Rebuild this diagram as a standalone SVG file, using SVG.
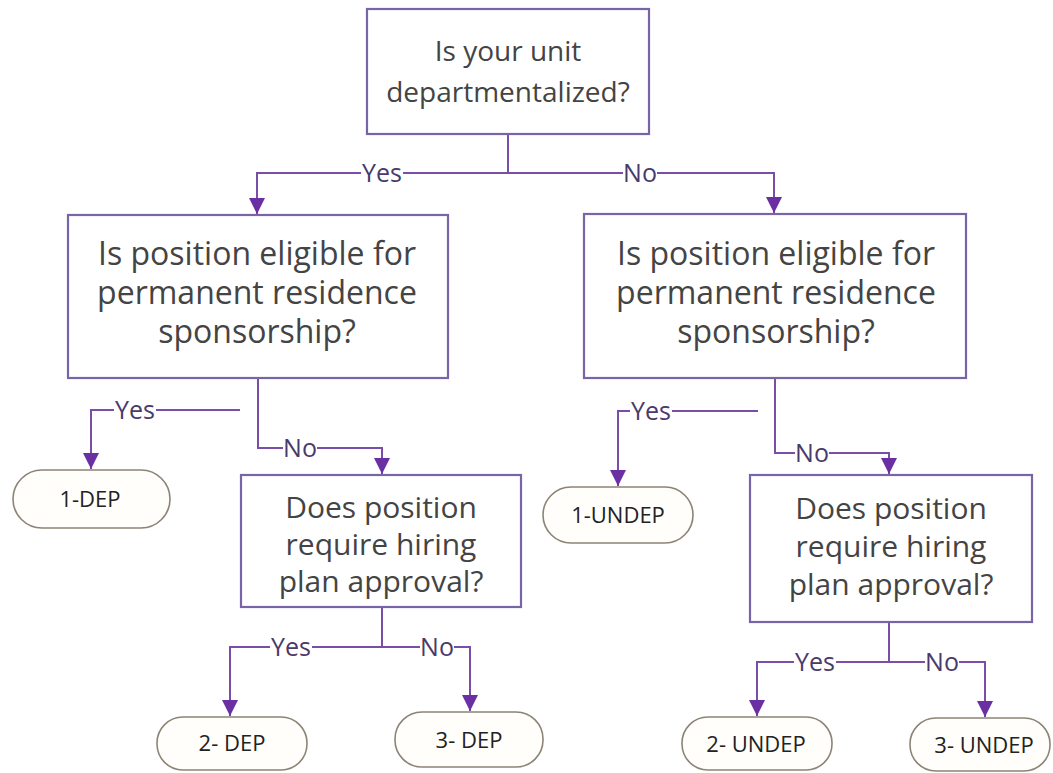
<svg xmlns="http://www.w3.org/2000/svg" width="1053" height="773" viewBox="0 0 1053 773">
<defs>
<style>
.box{fill:#fff;stroke:#7a64a8;stroke-width:2.2}
.pill{fill:#fffefa;stroke:#8c8476;stroke-width:1.6}
.q{font-family:"Open Sans","Noto Sans",sans-serif;fill:#444;text-anchor:middle}
.t{font-family:"Open Sans","Noto Sans",sans-serif;fill:#222;text-anchor:middle;font-size:22px}
.c{fill:none;stroke:#7a4ea8;stroke-width:2}
.lbl{font-family:"Open Sans","Noto Sans",sans-serif;fill:#4a3a6a;font-size:25px;text-anchor:middle}
.bg{fill:#fff}
</style>
<marker id="ah" markerUnits="userSpaceOnUse" markerWidth="16" markerHeight="16" refX="14" refY="7" orient="auto" viewBox="0 0 14 14">
<path d="M0,0 L14,7 L0,14 Z" fill="#6a2fa3"/>
</marker>
</defs>
<rect width="1053" height="773" fill="#fff"/>

<g id="connectors">
<path class="c" d="M508,134 V173 H257 V214" marker-end="url(#ah)"/>
<path class="c" d="M508,173 H774 V213" marker-end="url(#ah)"/>
<path class="c" d="M258,378 V448 H382 V474" marker-end="url(#ah)"/>
<path class="c" d="M240,410 H91 V469" marker-end="url(#ah)"/>
<path class="c" d="M775,378 V453 H889 V474" marker-end="url(#ah)"/>
<path class="c" d="M758,411 H618 V486" marker-end="url(#ah)"/>
<path class="c" d="M382,607 V647 H230 V716" marker-end="url(#ah)"/>
<path class="c" d="M382,647 H470 V711" marker-end="url(#ah)"/>
<path class="c" d="M889,622 V662 H757 V716" marker-end="url(#ah)"/>
<path class="c" d="M889,662 H985 V717" marker-end="url(#ah)"/>
<g id="labels">
<rect class="bg" x="361" y="160" width="42" height="26"/><text class="lbl" x="382" y="182">Yes</text>
<rect class="bg" x="623" y="160" width="34" height="26"/><text class="lbl" x="640" y="182">No</text>
<rect class="bg" x="114" y="397" width="42" height="26"/><text class="lbl" x="135" y="419">Yes</text>
<rect class="bg" x="283" y="435" width="34" height="26"/><text class="lbl" x="300" y="457">No</text>
<rect class="bg" x="630" y="398" width="42" height="26"/><text class="lbl" x="651" y="420">Yes</text>
<rect class="bg" x="795" y="440" width="34" height="26"/><text class="lbl" x="812" y="462">No</text>
<rect class="bg" x="270" y="634" width="42" height="26"/><text class="lbl" x="291" y="656">Yes</text>
<rect class="bg" x="420" y="634" width="34" height="26"/><text class="lbl" x="437" y="656">No</text>
<rect class="bg" x="794" y="649" width="42" height="26"/><text class="lbl" x="815" y="671">Yes</text>
<rect class="bg" x="925" y="649" width="34" height="26"/><text class="lbl" x="942" y="671">No</text>
</g>
</g>

<g id="q-departmentalized">
<rect class="box" x="367" y="9" width="282" height="125"/>
<text class="q" font-size="28" x="508" y="61">Is your unit</text>
<text class="q" font-size="28" x="508" y="102">departmentalized?</text>
</g>

<g id="q-eligible-dep">
<rect class="box" x="68" y="215" width="380" height="163"/>
<text class="q" font-size="32" x="257" y="265">Is position eligible for</text>
<text class="q" font-size="32" x="257" y="304">permanent residence</text>
<text class="q" font-size="32" x="257" y="343">sponsorship?</text>
</g>

<g id="q-eligible-undep">
<rect class="box" x="584" y="214" width="382" height="164"/>
<text class="q" font-size="32" x="776" y="265">Is position eligible for</text>
<text class="q" font-size="32" x="776" y="304">permanent residence</text>
<text class="q" font-size="32" x="776" y="343">sponsorship?</text>
</g>

<g id="q-hiring-dep">
<rect class="box" x="241" y="475" width="280" height="132"/>
<text class="q" font-size="30" x="381" y="518">Does position</text>
<text class="q" font-size="30" x="381" y="555">require hiring</text>
<text class="q" font-size="30" x="381" y="592">plan approval?</text>
</g>

<g id="q-hiring-undep">
<rect class="box" x="750" y="475" width="282" height="147"/>
<text class="q" font-size="30" x="891" y="519">Does position</text>
<text class="q" font-size="30" x="891" y="557">require hiring</text>
<text class="q" font-size="30" x="891" y="595">plan approval?</text>
</g>

<g id="r-1-dep">
<rect class="pill" x="13" y="470" width="157" height="58" rx="29"/>
<text class="t" font-size="21" x="90" y="507">1-DEP</text>
</g>
<g id="r-1-undep">
<rect class="pill" x="543" y="487" width="150" height="56" rx="28"/>
<text class="t" x="618" y="523">1-UNDEP</text>
</g>
<g id="r-2-dep">
<rect class="pill" x="157" y="717" width="150" height="53" rx="26"/>
<text class="t" x="232" y="751">2- DEP</text>
</g>
<g id="r-3-dep">
<rect class="pill" x="395" y="712" width="148" height="55" rx="27"/>
<text class="t" x="469" y="748">3- DEP</text>
</g>
<g id="r-2-undep">
<rect class="pill" x="682" y="717" width="150" height="53" rx="26"/>
<text class="t" font-size="23" x="756" y="752">2- UNDEP</text>
</g>
<g id="r-3-undep">
<rect class="pill" x="910" y="718" width="140" height="53" rx="26"/>
<text class="t" font-size="23" x="984" y="753">3- UNDEP</text>
</g>
</svg>
